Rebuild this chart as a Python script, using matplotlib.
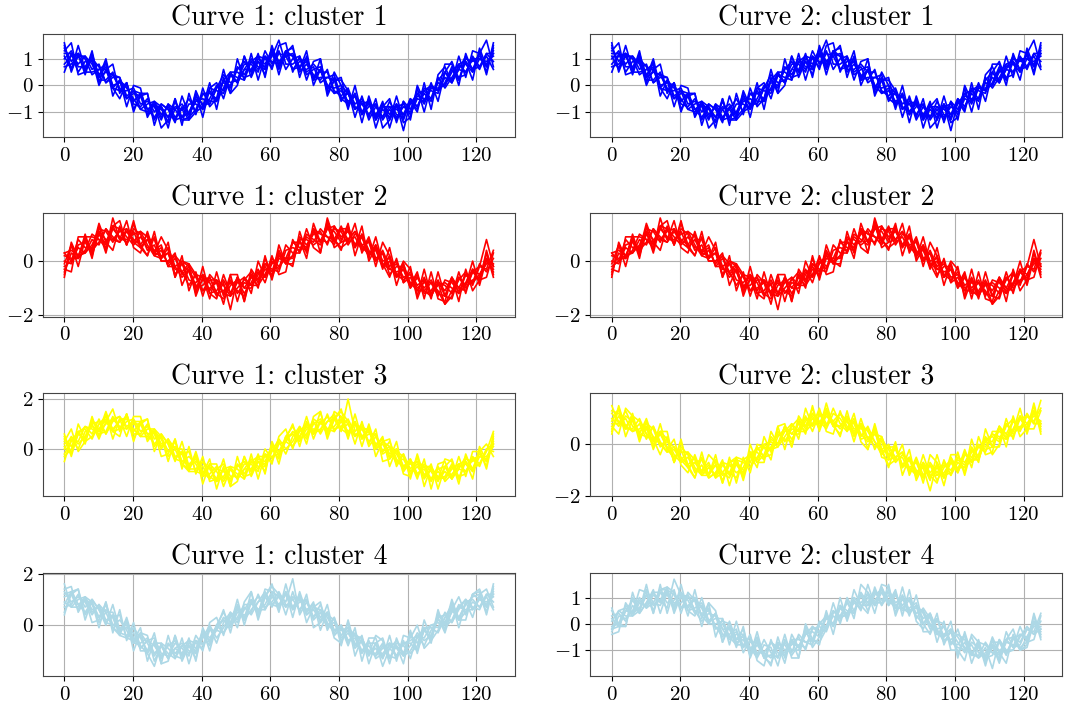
import matplotlib.pyplot as plt
import numpy as np

# Computer Modern look
plt.rcParams['font.family'] = 'serif'
plt.rcParams['font.serif'] = ['cmr10']
plt.rcParams['mathtext.fontset'] = 'cm'
plt.rcParams['axes.formatter.use_mathtext'] = True

# --- values, 63 samples per curve spread over x = 0..125 ---
cluster1 = [
    [1.4,0.9,1.2,1.0,0.4,0.6,0.8,0.0,0.1,0.0,-0.6,-0.3,-0.9,-1.2,-0.8,-1.4,-0.9,-0.7,-1.1,-0.6,-0.5,-0.7,-0.1,0.4,0.1,0.2,0.8,0.8,0.5,1.3,0.8,1.3,0.6,1.0,1.1,0.5,0.7,0.1,0.3,0.2,-0.6,-0.2,-0.7,-0.5,-1.3,-0.8,-1.2,-0.6,-1.1,-1.2,-0.5,-0.8,-0.3,-0.6,0.2,0.5,0.2,0.6,1.1,0.6,1.2,1.7,0.7],
    [0.5,1.2,0.8,1.1,0.8,0.2,0.2,0.5,-0.2,-0.2,-0.1,-0.7,-0.6,-0.8,-1.3,-0.7,-1.2,-0.9,-0.5,-1.0,-0.8,-0.2,-0.6,-0.1,0.5,0.5,0.3,0.4,1.0,0.8,1.3,0.8,1.1,0.6,0.7,1.0,0.2,0.6,0.0,-0.3,-0.1,-0.7,-0.3,-1.0,-0.7,-1.1,-0.7,-1.3,-0.8,-0.7,-1.1,-0.5,-0.6,-0.1,-0.2,0.1,0.7,0.3,0.4,1.1,0.7,1.2,1.2],
    [1.1,0.6,1.1,0.6,1.0,0.7,0.1,0.3,0.3,-0.5,-0.3,-0.4,-1.1,-0.7,-0.9,-1.2,-0.6,-1.2,-1.0,-0.5,-0.9,-0.5,0.0,-0.2,0.4,0.1,0.6,1.0,0.7,0.6,1.1,1.7,0.8,0.8,1.0,0.4,0.6,0.7,0.0,-0.1,0.0,-0.3,-0.9,-0.7,-0.6,-1.3,-0.9,-1.2,-0.7,-1.1,-0.7,-0.3,-0.7,-0.1,-0.1,0.0,0.5,0.8,0.5,1.0,1.0,0.8,1.3],
    [0.8,1.1,1.2,0.5,0.5,0.6,0.6,-0.1,-0.2,0.1,-0.7,-0.8,-0.5,-1.0,-0.7,-0.9,-1.3,-0.8,-1.2,-0.9,-0.3,-0.3,-0.5,0.2,-0.1,0.7,0.4,0.9,1.1,0.6,1.2,0.6,1.3,1.1,0.5,0.8,0.4,0.2,0.6,-0.3,-0.2,-0.6,-0.4,-1.1,-0.8,-0.7,-1.3,-0.9,-1.3,-0.6,-0.9,-0.3,-0.2,-0.5,0.3,-0.1,0.3,0.7,0.8,0.5,1.0,0.9,1.1],
    [1.2,1.2,0.5,0.9,0.9,0.3,0.5,0.4,0.3,-0.4,-0.2,-0.9,-1.0,-0.6,-1.1,-0.8,-1.3,-1.2,-0.7,-0.7,-0.9,-0.1,-0.2,-0.3,0.4,0.3,0.2,0.9,0.6,1.1,0.9,0.8,1.3,0.6,0.9,1.0,0.3,0.6,-0.1,0.3,-0.5,-0.3,-0.9,-0.6,-0.7,-1.2,-0.7,-1.1,-0.7,-1.7,-0.6,-0.9,-0.1,-0.2,-0.3,0.5,0.1,0.6,0.5,1.0,0.6,1.2,0.9],
    [0.7,0.8,1.1,1.1,0.6,0.8,0.1,0.4,-0.1,-0.5,-0.2,-0.3,-0.9,-0.7,-1.2,-0.7,-0.9,-1.3,-1.2,-0.4,-0.7,-0.7,-0.1,0.1,0.0,0.6,0.9,0.5,0.9,0.7,1.4,0.9,1.2,1.1,0.6,0.6,0.8,0.5,0.5,-0.2,-0.4,-0.1,-0.8,-1.0,-0.6,-1.3,-0.8,-0.8,-1.2,-0.8,-1.0,-0.4,-0.5,-0.5,0.1,0.0,0.6,0.2,1.0,0.9,1.1,0.7,1.2],
    [1.0,1.3,0.7,0.7,1.1,0.4,0.7,-0.1,0.2,-0.1,-0.5,-0.9,-0.7,-0.6,-0.8,-1.2,-0.8,-0.9,-1.3,-1.0,-0.3,-0.6,-0.6,0.2,0.5,0.1,0.6,0.6,1.1,1.0,0.7,1.2,1.1,1.2,0.7,0.9,0.2,0.3,0.3,0.4,-0.5,-0.7,-0.4,-0.7,-1.1,-0.7,-1.2,-0.8,-0.9,-1.1,-0.5,-0.8,-0.2,0.0,-0.2,0.3,0.1,0.8,0.9,0.6,0.7,1.1,0.6],
    [1.5,0.6,1.5,0.6,1.0,0.0,0.6,0.8,-0.3,0.1,-0.9,-0.4,-0.3,-1.5,-0.7,-0.9,-1.4,-0.4,-1.1,-0.3,-1.2,-0.1,0.1,-0.5,0.4,0.1,1.1,0.3,0.9,0.4,1.4,0.4,1.3,1.4,0.6,1.3,0.0,0.6,-0.2,0.5,0.0,-0.9,0.0,-1.1,-0.5,-1.6,-0.8,-0.5,-1.4,-0.6,-1.3,0.0,-0.6,0.1,-0.6,0.5,0.9,0.2,0.9,0.2,1.4,0.7,1.4],
    [1.6,0.5,1.2,0.4,1.2,0.3,1.0,-0.1,-0.5,0.1,-1.0,-0.3,-0.3,-1.3,-0.8,-1.6,-0.5,-1.3,-1.3,-0.2,-0.8,0.1,-0.9,0.3,-0.3,0.0,1.1,0.5,1.2,0.3,1.5,0.7,1.2,1.5,0.3,1.1,0.2,1.0,-0.3,0.2,0.3,-0.8,-0.3,-1.4,-0.4,-1.2,-0.6,-1.6,-0.7,-1.4,-1.2,-0.1,-1.0,0.0,-0.2,0.8,0.8,0.0,1.2,0.5,1.3,0.4,1.5],
    [1.3,1.6,0.4,0.5,1.3,0.1,0.9,-0.4,0.2,-0.8,0.0,-0.1,-1.2,-0.7,-1.6,-1.3,-0.5,-1.5,-0.3,-1.1,-0.1,-0.8,-0.5,0.6,-0.3,1.0,0.2,1.2,0.2,1.1,0.6,1.5,1.6,0.5,1.1,0.2,0.9,1.0,-0.4,0.2,0.2,-0.2,-1.2,-0.4,-1.2,-0.5,-1.6,-1.3,-0.4,-1.3,-0.6,-1.0,0.1,-0.9,0.4,0.7,0.1,1.1,0.3,1.3,1.2,0.5,1.6],
]

cluster2 = [
    [-0.4,0.3,0.1,0.4,1.0,0.8,0.5,1.2,0.9,0.7,1.1,0.5,0.8,0.8,0.1,0.5,-0.2,-0.6,-0.3,-0.9,-0.9,-0.6,-1.2,-1.4,-0.9,-0.7,-1.2,-0.8,-0.3,-0.8,0.0,-0.3,0.6,0.3,0.3,0.9,0.7,1.2,0.9,0.8,1.3,0.7,0.9,0.4,0.9,0.1,0.3,-0.5,-0.2,-0.2,-1.0,-0.6,-1.0,-0.7,-1.2,-1.3,-0.7,-1.0,-1.1,-0.4,-0.7,-0.6,0.3],
    [0.3,0.0,0.5,0.3,0.6,1.2,1.1,0.7,1.2,0.9,0.6,0.9,0.5,0.4,0.6,-0.2,0.1,-0.4,-0.9,-0.5,-0.6,-1.1,-0.7,-0.9,-1.3,-1.0,-0.7,-0.4,-0.8,-0.3,-0.5,0.2,0.1,0.7,0.7,0.4,1.2,0.7,1.2,1.3,0.8,1.2,0.5,0.9,0.3,0.4,-0.2,0.2,-0.5,-0.7,-0.4,-0.9,-0.7,-1.2,-0.8,-0.9,-1.2,-0.7,-0.4,-0.9,-0.2,0.8,-0.2],
    [-0.1,0.6,0.2,0.8,0.4,0.7,1.2,0.9,0.7,1.2,0.8,0.6,1.0,0.3,0.2,0.3,-0.5,-0.1,-0.4,-1.0,-0.5,-0.8,-1.3,-0.8,-1.8,-0.6,-1.0,-1.0,-0.5,-0.1,-0.3,-0.4,0.4,0.5,0.4,1.0,0.8,0.6,1.2,1.1,0.7,0.8,1.1,0.6,0.2,0.6,0.0,0.1,-0.6,-0.3,-0.8,-1.1,-0.6,-1.2,-0.9,-0.8,-1.0,-1.2,-0.5,-0.8,-0.5,0.0,-0.3],
    [0.2,0.1,0.1,0.9,0.9,0.8,0.7,1.3,1.2,0.6,1.2,1.0,0.4,0.6,0.0,0.0,0.2,-0.5,-0.2,-0.6,-1.1,-1.0,-0.8,-1.2,-0.7,-1.2,-0.8,-0.9,-0.9,-0.1,-0.4,0.4,-0.1,0.2,0.9,0.6,1.0,1.1,0.6,1.3,0.9,1.1,0.6,1.0,0.4,0.0,0.4,-0.2,0.0,-0.8,-0.6,-1.1,-1.1,-0.8,-1.3,-0.7,-0.8,-1.1,-0.8,-0.3,-0.5,-0.1,-0.1],
    [-0.2,0.0,0.8,0.5,0.5,1.1,0.8,0.8,0.7,1.1,0.7,1.1,0.9,0.2,0.4,-0.1,0.2,-0.1,-0.7,-0.8,-0.5,-1.2,-1.1,-0.7,-1.2,-0.8,-0.6,-0.9,-0.4,-0.6,-0.1,0.2,-0.1,0.7,0.5,0.4,1.1,0.7,1.3,0.7,1.2,0.8,1.1,0.5,0.3,0.5,-0.2,0.0,-0.6,-0.1,-0.9,-0.5,-1.2,-1.1,-0.7,-1.3,-0.6,-1.0,-0.5,-0.8,-0.1,-0.4,0.1],
    [0.3,0.4,0.2,0.3,0.8,0.6,1.2,0.8,1.1,1.2,0.7,0.5,0.8,0.3,0.5,-0.2,-0.2,0.0,-0.2,-1.1,-0.7,-0.6,-1.2,-1.1,-0.8,-1.1,-1.3,-0.5,-0.7,-0.2,-0.6,0.1,0.0,0.2,0.8,0.8,0.6,0.8,0.7,1.2,1.1,0.6,1.0,0.9,0.2,0.6,-0.1,-0.3,-0.1,-0.6,-0.5,-1.0,-0.8,-0.8,-1.1,-1.6,-1.1,-0.6,-1.0,-0.7,-0.6,0.1,-0.2],
    [0.0,-0.1,0.6,0.7,0.3,1.0,0.6,1.3,0.8,0.8,1.0,1.1,0.6,0.2,0.1,0.3,-0.3,-0.4,-0.1,-0.5,-1.1,-0.7,-0.7,-1.2,-1.3,-0.6,-1.0,-0.6,-0.9,-0.5,0.1,-0.2,0.1,0.1,0.7,0.5,1.2,1.0,0.9,0.6,1.2,1.2,0.6,0.6,0.7,0.0,0.3,-0.3,-0.4,-0.3,-1.0,-0.6,-1.1,-1.3,-0.8,-1.1,-0.6,-1.2,-0.9,-0.4,-0.2,-0.3,0.4],
    [-0.5,0.6,-0.2,0.8,0.4,1.4,0.7,0.4,1.3,0.6,1.4,0.6,0.2,1.1,0.0,0.0,0.3,-0.9,-0.3,-1.2,-0.2,-1.2,-1.4,-0.5,-1.2,-0.6,-1.5,-0.3,-0.7,0.1,-0.6,0.6,-0.1,-0.1,0.8,0.1,1.4,0.7,1.4,0.5,0.7,1.4,0.2,1.0,0.1,0.9,-0.1,-0.6,0.1,-0.8,-0.2,-1.4,-0.7,-1.4,-0.4,-1.3,-1.4,-0.6,-0.9,0.0,-0.9,0.1,-0.4],
    [-0.6,0.7,0.1,1.0,0.2,1.1,0.3,1.3,1.5,0.6,1.5,0.5,0.2,0.9,0.1,0.7,-0.6,0.0,-0.1,-1.3,-0.6,-1.4,-0.4,-1.3,-0.5,-0.5,-1.5,-0.5,-1.0,0.2,-0.7,0.3,0.0,-0.2,1.1,0.3,1.2,0.3,1.5,0.8,0.4,1.3,0.5,1.3,0.0,0.5,-0.3,0.5,-0.6,0.0,-0.3,-1.3,-0.3,-1.3,-0.8,-1.6,-1.3,-0.4,-1.2,-0.3,-0.8,0.4,-0.5],
    [-0.3,-0.4,0.9,0.9,0.1,1.3,0.4,1.6,0.8,1.5,0.5,0.3,1.1,0.3,0.9,0.4,-0.6,0.2,-1.1,-0.4,-1.3,-0.5,-0.8,-1.6,-0.5,-1.5,-0.6,-1.2,0.0,-0.6,0.2,-0.5,-0.4,0.8,0.3,1.2,0.5,0.3,1.6,0.8,0.5,0.7,1.4,0.3,0.8,-0.2,0.7,0.2,-0.9,-0.1,-0.9,-0.4,-1.4,-0.4,-1.4,-1.5,-0.6,-1.5,-0.3,-1.1,-0.7,0.3,-0.6],
]

curve1_cluster3 = [
    [0.4,0.1,0.7,0.8,0.4,1.0,1.3,0.8,1.1,1.3,0.7,1.1,0.6,0.2,0.5,-0.3,0.0,0.0,-0.7,-0.5,-0.7,-1.2,-0.8,-0.6,-1.1,-1.1,-0.6,-0.6,-0.9,0.0,-0.4,0.3,-0.2,0.5,0.9,0.5,1.1,0.6,1.1,1.2,0.7,2.0,0.7,1.0,0.1,0.5,-0.1,0.3,-0.4,-0.8,-0.4,-1.0,-0.8,-1.3,-0.8,-0.7,-1.1,-0.8,-0.3,-0.8,-0.1,0.2,-0.3],
    [-0.5,0.4,0.3,0.9,0.8,0.6,0.7,1.3,0.8,1.1,1.2,0.7,0.9,0.6,0.0,0.4,-0.3,-0.2,-0.1,-0.9,-1.0,-0.7,-1.3,-1.1,-0.7,-0.8,-1.1,-1.0,-0.4,-0.5,0.1,-0.2,0.3,0.1,0.5,1.0,0.6,1.1,0.8,0.7,1.2,0.6,1.1,0.5,0.7,0.2,0.4,-0.4,-0.1,-0.3,-1.0,-0.7,-1.1,-0.8,-1.2,-1.1,-0.6,-1.1,-1.0,-0.3,-0.6,0.0,0.2],
    [0.1,-0.2,0.6,0.4,1.0,1.1,0.6,1.1,1.3,0.8,1.0,1.0,0.4,0.7,0.4,-0.1,0.3,-0.5,-0.6,-0.4,-1.1,-1.0,-0.7,-1.2,-0.8,-1.2,-0.8,-0.4,-0.7,-0.7,-0.1,0.4,0.0,0.3,0.8,0.4,1.0,1.2,0.8,0.9,1.3,1.0,0.5,0.8,0.8,0.0,0.2,-0.3,0.0,-0.7,-0.6,-0.5,-1.2,-0.8,-1.1,-1.2,-0.8,-0.6,-0.9,-0.4,-0.3,-0.4,0.3],
    [-0.2,0.3,0.7,0.3,0.5,1.0,1.1,0.7,0.8,1.4,0.6,0.6,1.0,0.4,0.6,0.2,-0.4,-0.1,-0.8,-0.8,-0.5,-0.8,-1.2,-0.8,-1.3,-0.6,-1.0,-0.5,-0.3,-0.7,0.0,-0.4,0.5,0.6,0.3,0.8,0.8,0.7,1.4,0.7,1.1,0.7,1.0,0.4,0.6,0.6,-0.2,0.0,-0.6,-0.2,-0.8,-0.5,-0.7,-1.2,-0.7,-1.3,-1.0,-0.7,-0.6,-0.9,-0.3,-0.3,0.1],
    [0.2,0.4,0.0,0.7,0.9,0.7,1.0,1.2,1.3,0.9,1.1,0.5,0.5,0.8,0.2,0.3,-0.4,-0.5,-0.3,-0.6,-1.1,-0.6,-0.9,-1.3,-0.8,-1.0,-1.2,-0.5,-0.8,-0.2,-0.3,-0.2,0.5,0.1,0.7,1.0,0.7,1.1,0.7,1.3,0.8,1.0,0.5,0.9,0.7,0.1,0.4,-0.2,0.0,-0.9,-0.5,-1.1,-0.6,-0.9,-1.3,-0.7,-1.2,-0.8,-0.9,-0.4,-0.7,0.0,-0.1],
    [-0.3,0.0,0.6,0.9,0.6,1.2,0.6,1.2,0.9,0.8,1.1,1.1,0.6,0.7,0.1,0.4,0.0,-0.6,-0.8,-0.3,-0.9,-1.2,-0.8,-0.9,-1.2,-0.7,-0.5,-0.9,-0.5,-0.6,0.2,-0.1,0.4,0.6,0.4,0.6,1.2,1.0,1.3,0.8,0.9,1.2,0.6,0.5,0.8,0.0,0.3,0.1,-0.5,-0.4,-0.9,-0.6,-1.0,-1.2,-0.9,-1.2,-0.7,-1.2,-0.4,-0.5,-0.2,-0.5,0.2],
    [0.0,0.5,0.2,0.5,1.1,0.8,1.2,0.7,1.2,1.2,0.8,0.5,0.8,0.8,0.5,-0.1,0.1,-0.2,-0.9,-0.9,-0.5,-1.1,-1.3,-0.8,-0.7,-1.2,-0.8,-0.8,-0.3,-0.3,-0.5,0.2,0.3,0.7,0.5,0.9,0.6,0.8,1.1,1.4,0.8,0.6,1.0,0.8,0.3,0.6,-0.1,0.1,-0.2,-0.7,-0.4,-1.0,-0.7,-0.7,-1.2,-0.9,-1.2,-0.6,-0.5,-0.8,-0.6,-0.1,0.7],
    [0.5,-0.2,1.0,0.4,1.0,0.4,1.1,1.6,0.7,1.4,0.4,1.0,1.2,-0.1,0.6,0.2,-0.5,0.3,-0.7,-0.2,-1.4,-0.6,-0.6,-1.5,-0.8,-1.2,-0.3,-1.1,-0.5,-0.9,0.2,-0.6,0.5,0.9,0.4,1.3,0.4,1.1,0.6,1.5,1.3,0.4,1.4,0.4,0.9,-0.3,0.3,0.4,-0.7,-0.2,-1.2,-0.2,-1.1,-0.6,-1.6,-0.7,-0.4,-1.2,-0.5,-1.2,0.1,-0.5,0.4],
    [0.6,-0.3,0.7,0.2,1.2,0.7,1.5,0.7,0.5,1.4,0.3,1.1,1.2,0.1,0.5,-0.5,0.4,-0.6,-0.9,-0.1,-1.0,-0.4,-1.6,-0.7,-1.5,-1.3,-0.3,-0.9,-0.2,-1.0,0.3,-0.3,0.4,1.0,0.1,1.1,0.6,1.5,0.5,1.2,1.6,0.5,1.1,0.1,1.0,0.1,0.5,-0.7,0.0,-1.0,-1.1,-0.3,-1.5,-0.7,-1.2,-0.4,-0.5,-1.4,-0.2,-0.9,0.0,-0.8,0.5],
    [0.3,0.8,-0.1,0.3,1.3,0.5,1.4,0.4,1.2,0.5,1.3,1.3,0.3,0.7,-0.3,-0.2,0.4,-0.8,0.1,-1.0,-0.3,-1.3,-1.2,-0.4,-1.5,-0.3,-1.2,-0.2,-1.2,-0.2,-0.6,0.5,0.8,0.0,0.9,0.2,1.3,1.5,0.4,1.2,1.5,1.1,0.2,1.1,0.2,0.8,-0.5,-0.4,0.3,-0.9,-0.5,-1.2,-0.4,-1.6,-0.6,-0.5,-1.2,-0.3,-1.1,-0.1,-0.1,-0.7,0.6],
]

curve2_cluster3 = [
    [0.6,1.1,0.6,0.6,1.0,0.4,0.0,0.4,-0.1,-0.6,-0.2,-0.9,-0.7,-0.6,-1.2,-0.6,-1.1,-1.3,-0.7,-1.0,-0.7,-0.1,-0.5,-0.4,0.3,0.6,0.2,0.6,1.1,0.5,1.2,0.7,1.4,0.8,0.5,0.9,0.3,0.7,0.1,-0.2,0.0,-0.6,-0.5,-1.1,-0.5,-1.2,-0.8,-1.4,-0.9,-0.6,-1.1,-0.4,-0.5,0.0,-0.2,-0.1,0.6,0.4,0.3,1.0,0.6,0.6,1.3],
    [1.5,0.8,1.0,0.5,0.6,0.8,0.6,-0.1,0.2,-0.4,-0.7,-0.5,-1.0,-1.0,-0.7,-1.3,-0.8,-1.1,-1.3,-0.6,-0.4,-0.6,0.0,0.1,-0.1,0.3,0.7,1.0,0.6,1.0,0.7,1.2,0.9,1.2,0.9,0.4,0.8,0.2,0.4,0.3,-0.5,-0.1,-0.9,-0.6,-1.1,-0.9,-1.8,-0.7,-1.2,-1.1,-0.5,-0.7,-0.2,-0.5,0.2,0.3,0.1,0.7,1.0,0.5,1.1,0.8,0.8],
    [0.9,1.4,0.7,1.0,0.4,0.3,0.7,0.1,-0.3,-0.1,-0.5,-0.8,-0.5,-1.1,-1.1,-0.8,-1.4,-0.8,-0.8,-1.1,-0.3,-0.3,-0.6,0.2,0.0,0.7,0.4,0.4,0.9,1.2,0.9,0.6,1.2,1.0,0.6,1.0,0.4,0.1,0.4,0.1,-0.6,-0.5,-0.3,-0.9,-1.2,-0.7,-1.1,-0.8,-1.3,-0.7,-0.9,-0.9,-0.1,-0.5,0.1,0.4,0.3,0.2,0.9,0.6,0.8,1.2,0.7],
    [1.2,0.9,0.6,1.1,0.9,0.4,0.2,0.5,0.2,-0.7,-0.1,-0.4,-1.1,-0.8,-1.3,-1.1,-0.7,-1.2,-0.6,-0.7,-0.9,-0.5,-0.1,-0.2,0.5,0.1,0.6,0.5,0.5,1.2,0.8,1.4,0.7,0.7,1.1,0.6,0.6,0.6,-0.2,0.3,-0.4,-0.2,-0.8,-0.5,-1.0,-1.3,-0.7,-1.1,-0.7,-1.2,-0.7,-0.9,-0.6,-0.1,-0.3,0.5,0.5,0.3,0.6,1.1,0.8,1.1,0.9],
    [0.8,0.8,1.3,0.7,0.5,0.7,0.3,0.0,-0.3,-0.2,-0.6,-0.3,-0.6,-1.2,-0.9,-1.2,-0.7,-0.8,-1.1,-0.9,-0.3,-0.7,-0.4,0.3,0.0,0.5,0.8,0.5,1.0,0.7,1.1,1.2,0.7,1.2,0.7,0.4,0.7,0.2,0.5,-0.3,-0.1,-0.5,-0.3,-1.0,-1.1,-0.8,-1.3,-0.9,-1.3,-0.5,-1.0,-0.3,-0.7,-0.4,0.3,-0.1,0.7,0.4,0.9,0.6,1.2,0.8,1.7],
    [1.3,1.2,0.7,0.5,0.8,0.2,0.7,0.0,0.1,-0.1,-0.6,-0.9,-0.7,-1.1,-0.8,-1.3,-1.1,-0.7,-0.6,-1.2,-0.5,-0.1,-0.5,-0.1,0.4,0.2,0.1,0.9,0.7,1.1,0.6,1.1,0.8,0.7,1.0,0.8,0.2,0.3,-0.1,0.2,-0.2,-0.7,-0.4,-0.6,-1.2,-0.7,-1.2,-1.2,-0.8,-1.0,-0.6,-0.8,-0.3,-0.1,-0.1,0.4,0.2,0.8,0.4,0.7,0.7,1.3,0.8],
    [1.0,0.7,1.1,0.9,0.3,0.6,0.1,0.5,-0.2,-0.5,-0.3,-0.3,-0.9,-1.2,-1.2,-0.8,-1.2,-1.1,-0.5,-0.6,-0.9,-0.2,0.0,-0.2,-0.1,0.7,0.4,0.8,0.5,0.8,1.3,0.8,0.9,0.6,0.9,0.5,0.8,0.5,0.1,-0.4,-0.1,-0.1,-0.8,-0.9,-0.7,-1.3,-0.8,-1.2,-1.1,-0.7,-1.1,-0.4,-0.6,-0.6,0.2,0.1,0.7,0.2,0.5,1.0,1.1,0.9,1.4],
    [0.5,1.4,0.3,1.0,0.4,1.0,0.2,-0.4,0.3,-0.7,0.1,-0.8,-1.3,-0.3,-1.3,-1.1,-0.6,-1.6,-0.7,-1.3,0.0,-0.7,-0.7,0.5,0.0,0.7,-0.1,1.1,0.7,1.4,0.6,1.6,0.7,0.4,1.0,0.1,1.0,0.2,0.6,-0.5,-0.6,0.1,-1.2,-0.5,-1.3,-0.4,-1.2,-1.5,-0.6,-1.2,-0.3,-1.2,-0.2,-0.7,0.6,-0.1,-0.1,0.8,0.5,1.4,0.4,1.3,0.6],
    [0.4,1.5,0.6,1.2,0.2,0.7,-0.2,0.5,0.5,-0.7,0.2,-0.9,-1.3,-0.5,-1.2,-0.4,-1.5,-0.7,-0.5,-1.4,-0.4,-0.9,0.3,-0.3,0.7,0.8,-0.1,0.9,0.4,1.5,0.5,1.3,0.8,0.3,1.3,0.3,0.8,-0.2,0.7,-0.2,-0.9,0.0,-0.9,-0.2,-1.4,-0.8,-1.4,-0.4,-1.3,-0.4,-0.4,-1.1,0.2,-0.6,0.2,-0.4,0.0,1.0,0.2,1.1,0.5,1.6,0.5],
    [0.7,0.4,1.4,1.1,0.1,0.9,-0.1,0.8,-0.2,0.2,-0.8,-1.1,-0.4,-1.1,-0.4,-0.7,-1.5,-0.5,-1.5,-0.5,-1.1,0.0,-0.1,-0.6,0.7,-0.2,0.8,0.2,1.4,0.7,1.4,0.5,0.4,1.3,0.5,1.2,0.1,-0.2,0.8,-0.2,-0.8,-0.6,0.0,-1.2,-0.6,-1.5,-0.4,-0.7,-1.6,-0.5,-1.0,-0.2,-0.9,0.3,-0.4,-0.3,0.7,-0.1,1.1,0.3,0.6,1.5,0.4],
]

curve1_cluster4 = [
    [0.8,1.3,0.8,0.5,0.9,0.1,0.5,0.5,-0.2,-0.1,-0.3,-0.9,-0.6,-0.5,-1.1,-1.2,-0.7,-0.9,-1.2,-0.4,-0.8,-0.1,-0.7,0.1,0.5,0.2,0.7,0.4,0.9,1.1,0.7,1.2,0.9,1.8,0.4,0.9,0.3,0.8,0.1,-0.3,0.0,-0.6,-0.5,-1.1,-0.7,-0.7,-1.2,-0.9,-0.6,-1.1,-0.4,-0.7,-0.1,-0.1,-0.3,0.3,0.8,0.3,0.8,1.1,1.2,1.4,0.7],
    [1.3,0.9,1.1,0.9,0.4,0.8,0.2,0.3,0.4,-0.5,-0.6,-0.4,-1.1,-1.6,-0.7,-0.9,-1.2,-1.3,-0.7,-0.9,-0.3,-0.6,-0.2,-0.3,0.1,0.7,0.2,0.9,0.6,0.6,1.2,0.7,1.3,0.7,1.0,0.6,0.8,0.1,0.4,0.2,-0.6,-0.3,-0.8,-0.6,-1.1,-1.1,-0.7,-1.2,-1.3,-0.6,-1.3,-0.4,-0.5,0.0,0.1,-0.1,0.2,0.8,0.5,0.9,0.7,1.2,1.2],
    [1.1,1.2,0.6,1.0,0.8,0.3,0.8,0.0,-0.1,0.0,-0.7,-0.7,-0.5,-1.1,-0.8,-1.3,-0.9,-0.7,-1.0,-1.1,-0.5,0.0,-0.5,-0.1,0.4,0.1,0.6,1.0,0.6,0.8,1.3,1.1,0.7,1.0,1.1,0.4,0.6,0.2,0.5,-0.2,-0.2,-0.1,-0.9,-0.6,-1.0,-1.2,-0.9,-0.7,-1.2,-0.7,-0.7,-1.0,-0.2,-0.5,0.3,0.4,0.1,0.6,1.0,0.6,1.0,0.8,1.3],
    [0.7,0.8,1.2,0.7,1.0,0.6,0.1,0.4,-0.3,-0.4,-0.1,-0.5,-1.0,-0.7,-1.3,-0.7,-1.1,-0.8,-0.6,-1.1,-0.4,-0.8,0.0,0.2,-0.1,0.5,0.4,0.5,1.2,0.6,1.1,0.8,1.2,0.6,0.9,1.0,0.2,0.5,-0.1,0.3,-0.4,-0.1,-0.4,-1.0,-0.6,-1.3,-1.1,-0.8,-0.9,-1.2,-1.0,-0.5,-0.1,-0.6,-0.2,0.3,0.6,0.2,0.5,1.2,1.0,0.9,1.1],
    [1.6,0.7,0.7,1.1,0.6,0.7,0.1,0.0,0.2,-0.2,-0.7,-0.3,-0.7,-1.2,-0.8,-1.1,-1.3,-0.8,-1.1,-0.6,-0.7,-0.6,0.0,-0.3,0.3,0.7,0.3,0.9,0.5,1.2,0.8,1.1,0.7,1.1,1.0,0.5,0.8,0.3,0.5,-0.4,-0.1,-0.7,-0.3,-0.7,-1.2,-0.7,-1.6,-0.9,-1.2,-0.7,-0.6,-0.4,-0.8,-0.2,0.2,0.0,0.5,0.7,1.0,0.7,0.6,1.2,0.9],
    [1.2,1.3,0.8,1.0,0.5,0.8,0.5,-0.1,-0.3,0.1,-0.5,-0.9,-0.6,-0.8,-1.2,-0.8,-0.6,-1.2,-0.8,-1.0,-0.2,-0.5,-0.1,0.2,0.0,0.3,0.8,0.8,1.1,0.7,0.9,1.3,0.8,0.7,1.1,0.4,0.7,0.6,0.0,0.1,-0.5,-0.2,-0.7,-1.0,-0.8,-1.2,-0.8,-1.3,-0.7,-0.8,-1.1,-0.8,-0.2,0.0,-0.1,0.5,0.1,0.7,0.6,0.6,1.1,0.7,1.2],
    [0.9,0.7,1.0,1.1,0.9,0.3,0.6,0.3,-0.4,-0.5,-0.1,-0.8,-1.1,-0.7,-0.7,-1.3,-0.9,-1.1,-0.6,-0.7,-0.9,-0.2,-0.2,0.3,0.1,0.6,0.2,0.6,0.9,1.3,0.8,0.7,1.2,1.0,0.6,1.0,0.3,0.6,0.3,-0.2,0.0,-0.6,-0.4,-0.5,-1.1,-0.9,-1.3,-0.7,-0.8,-1.1,-0.8,-0.3,-0.6,-0.4,0.4,0.1,0.7,0.2,0.9,1.0,0.7,1.1,0.6],
    [0.5,1.2,1.4,0.2,1.0,0.6,0.0,0.8,-0.2,0.2,-1.0,-0.3,-0.4,-1.4,-0.8,-1.3,-0.4,-1.4,-0.8,-1.3,-0.2,-1.0,0.0,0.5,0.0,1.0,0.0,0.9,0.4,1.4,1.3,0.5,1.6,0.6,1.2,0.1,0.7,0.9,-0.2,0.3,-0.8,0.2,-0.8,-0.4,-1.5,-0.7,-0.5,-1.3,-0.8,-1.5,-0.3,-1.0,0.2,-0.5,0.3,-0.3,0.6,1.1,0.4,1.2,1.4,0.7,1.4],
    [0.4,1.3,1.4,0.4,0.9,-0.1,0.9,-0.1,-0.4,0.3,-0.6,-0.1,-1.4,-0.6,-1.5,-1.4,-0.4,-1.2,-0.5,-1.4,-0.1,-0.7,-0.1,0.6,-0.3,0.8,0.2,1.3,0.3,1.1,1.6,0.6,1.3,0.3,1.3,0.5,0.9,-0.2,0.5,-0.5,-0.7,0.1,-1.2,-0.5,-1.1,-0.4,-0.6,-1.5,-0.5,-1.2,-0.2,-1.1,-0.1,-0.7,0.5,0.0,1.0,0.2,0.2,1.2,1.3,0.4,1.5],
    [1.4,1.5,0.5,1.0,0.1,0.2,0.9,-0.3,0.6,-0.6,0.1,-1.0,-1.0,-0.3,-1.5,-0.4,-1.3,-0.5,-1.5,-0.6,-1.0,0.1,0.3,-0.4,0.5,-0.1,0.9,1.3,0.2,1.1,1.5,1.2,0.4,1.3,0.5,1.2,-0.1,0.1,0.8,-0.4,-0.1,-0.8,-0.1,-1.4,-0.5,-0.5,-1.3,-0.4,-1.4,-0.4,-0.5,0.0,-0.9,-0.6,0.6,-0.2,0.9,-0.1,0.9,0.3,1.2,0.5,1.6],
]

curve2_cluster4 = [
    [0.2,-0.1,0.5,0.9,0.5,1.3,0.8,0.7,1.2,0.8,0.8,1.1,0.5,0.1,0.4,0.3,-0.4,-0.4,-0.2,-1.1,-0.6,-1.2,-0.6,-1.1,-1.3,-0.7,-1.1,-0.4,-0.7,-0.6,0.1,-0.2,0.3,0.1,1.0,0.5,1.1,0.5,1.1,1.3,0.7,1.1,0.7,1.0,0.3,0.0,0.3,-0.2,-0.7,-0.3,-1.1,-0.7,-1.2,-1.2,-0.7,-1.1,-1.3,-0.7,-0.8,-0.9,-0.7,-0.6,0.3],
    [-0.3,0.3,0.2,0.5,1.0,0.6,1.1,0.9,0.6,1.7,1.1,0.6,1.0,0.6,0.0,0.0,0.1,0.0,-0.7,-0.6,-1.1,-0.7,-1.1,-0.7,-0.9,-1.2,-0.6,-0.9,-0.4,-0.1,-0.4,0.3,-0.1,0.6,0.4,0.8,0.6,1.2,0.8,0.8,1.3,0.8,1.0,0.5,0.7,0.4,-0.2,0.1,0.0,-0.8,-0.2,-1.0,-0.8,-1.3,-1.1,-0.7,-0.7,-1.2,-0.5,-0.7,-0.2,-0.4,-0.2],
    [-0.1,0.0,0.7,0.4,0.6,1.1,0.5,1.2,1.1,0.7,1.2,0.9,0.4,0.7,0.1,0.4,-0.2,-0.6,-0.4,-0.4,-0.9,-1.3,-0.8,-0.9,-1.6,-0.6,-1.0,-1.0,-0.4,-0.3,-0.5,-0.1,0.5,0.3,0.3,1.0,0.8,1.1,0.7,1.2,0.9,0.6,1.1,0.5,0.6,0.5,0.0,-0.4,-0.1,-0.7,-0.8,-0.4,-1.1,-0.8,-1.3,-1.2,-0.6,-1.0,-1.0,-0.4,-0.5,0.0,-0.3],
    [0.3,0.4,0.1,0.7,0.4,0.8,1.2,0.8,1.3,1.1,0.6,0.7,0.9,0.3,0.6,-0.2,0.0,-0.5,-0.8,-0.4,-1.0,-0.5,-1.3,-1.2,-0.7,-1.0,-0.8,-0.5,-1.0,-0.1,-0.3,0.2,0.0,0.7,0.5,0.4,1.2,0.8,1.3,0.7,1.1,0.6,0.6,0.9,0.2,0.6,0.2,-0.3,-0.4,-0.2,-0.5,-0.9,-1.2,-0.7,-0.8,-1.1,-1.1,-0.6,-0.5,-1.0,-0.5,-0.1,-0.1],
    [-0.2,0.5,0.6,0.3,0.8,0.7,1.2,1.2,0.8,0.9,1.2,0.5,0.6,0.8,0.1,0.2,0.2,-0.5,-0.3,-0.9,-0.7,-0.7,-1.3,-0.7,-1.1,-1.2,-0.7,-0.9,-0.3,-0.7,0.0,-0.1,0.5,0.2,0.4,0.9,0.6,1.0,0.7,1.4,0.8,1.2,0.5,0.6,0.8,0.0,0.4,-0.2,-0.1,-0.7,-0.9,-1.0,-0.5,-1.1,-1.2,-0.8,-1.0,-1.1,-1.0,-0.5,-0.1,-0.4,0.1],
    [-0.2,-0.1,0.5,0.4,0.9,0.6,0.8,1.3,1.3,0.6,1.0,1.1,0.5,0.4,0.5,-0.1,-0.5,-0.1,-0.6,-0.5,-1.2,-0.8,-1.2,-1.2,-0.8,-0.8,-1.2,-0.8,-0.9,-0.2,-0.1,-0.3,0.4,0.6,0.3,1.0,0.7,0.7,1.2,0.9,1.2,0.7,0.9,0.9,0.4,0.5,-0.1,0.2,-0.6,-0.6,-0.4,-0.6,-1.1,-1.3,-0.9,-1.7,-0.6,-1.1,-0.6,-0.4,-0.6,0.1,-0.2],
    [0.1,0.5,0.3,0.3,0.5,1.1,0.7,0.9,1.4,1.2,0.6,1.0,1.0,0.3,0.0,0.4,-0.2,-0.2,-0.8,-0.8,-0.5,-1.1,-1.1,-1.3,-0.9,-1.1,-0.6,-0.6,-0.7,-0.8,0.0,0.3,0.0,0.3,0.8,0.4,1.1,0.7,0.9,1.2,0.7,1.1,0.6,0.4,0.7,0.2,0.4,-0.4,-0.5,-0.3,-0.7,-1.1,-0.7,-0.9,-1.4,-0.9,-1.2,-0.6,-0.9,-0.8,-0.2,-0.3,0.4],
    [0.5,0.0,-0.1,1.2,0.4,0.8,1.3,0.4,1.2,0.5,1.5,0.5,0.3,1.0,0.1,0.4,-0.7,0.1,-0.6,-0.2,-1.2,-0.3,-1.3,-1.5,-0.8,-1.5,-0.4,-0.9,-0.2,-0.9,-0.5,0.5,-0.4,0.7,0.2,1.3,0.7,0.4,1.4,0.7,1.5,0.3,1.0,0.3,1.1,0.0,-0.4,0.2,-0.5,0.1,-1.2,-0.4,-1.5,-0.8,-1.3,-0.5,-1.1,-1.5,-0.4,-1.0,-0.9,0.1,-0.4],
    [0.6,-0.1,-0.1,1.0,0.5,1.5,0.4,1.3,1.4,0.4,1.1,0.3,1.3,0.2,0.8,0.5,-0.7,-0.1,-0.9,-0.1,-1.3,-0.6,-1.2,-1.6,-0.5,-1.3,-0.6,-1.3,-0.1,-0.6,-0.8,0.4,-0.1,1.0,0.1,0.9,0.5,1.5,0.7,1.5,1.4,0.4,1.4,0.4,0.7,-0.3,-0.3,0.4,-0.8,-0.2,-1.3,-0.3,-1.2,-0.6,-1.5,-0.8,-1.5,-0.6,-0.2,-1.0,-0.8,0.4,-0.5],
    [-0.4,-0.3,0.8,0.4,1.3,1.2,0.4,1.5,0.4,1.3,0.4,1.2,0.9,-0.1,0.8,-0.5,0.2,-0.8,0.1,-0.9,-0.4,-1.4,-1.6,-0.6,-1.3,-0.4,-1.3,-1.3,0.0,-0.6,-0.7,-0.2,0.8,0.0,0.9,0.2,1.5,1.2,0.4,1.4,0.8,1.3,0.3,1.3,0.1,-0.2,0.4,-0.7,0.1,-1.0,-1.0,-1.4,-0.4,-0.7,-1.6,-0.6,-1.4,-0.3,-0.9,-0.1,-0.7,0.3,-0.6],
]

colors = ['blue', 'red', 'yellow', 'lightblue']
curve1_data = [cluster1, cluster2, curve1_cluster3, curve1_cluster4]
curve2_data = [cluster1, cluster2, curve2_cluster3, curve2_cluster4]
ylims = [
    [(-1.94, 1.94), (-2.06, 1.77), (-1.89, 2.24), (-1.97, 2.04)],
    [(-1.94, 1.94), (-2.06, 1.77), (-2.01, 1.99), (-1.98, 1.95)],
]
yticks = [
    [[-1, 0, 1], [-2, 0], [0, 2], [0, 2]],
    [[-1, 0, 1], [-2, 0], [-2, 0], [-1, 0, 1]],
]

fig, axes = plt.subplots(4, 2, figsize=(10.73, 7.04), dpi=100)
fig.subplots_adjust(left=0.040, right=0.99, bottom=0.040, top=0.952,
                    wspace=0.16, hspace=0.74)

for c, data in enumerate([curve1_data, curve2_data]):
    for k in range(4):
        ax = axes[k, c]
        for y in data[k]:
            x = np.linspace(0, 125, len(y))
            ax.plot(x, y, color=colors[k], lw=1.2)
        ax.set_title(f"Curve {c + 1}: cluster {k + 1}", fontsize=20)
        ax.set_xlim(-6.25, 131.25)
        ax.set_ylim(*ylims[c][k])
        ax.set_xticks([0, 20, 40, 60, 80, 100, 120])
        ax.set_yticks(yticks[c][k])
        ax.tick_params(labelsize=15)
        ax.grid(True, color='#b0b0b0', lw=0.8)
        for s in ax.spines.values():
            s.set_color('#444444')

fig.savefig("out.png", dpi=100)
